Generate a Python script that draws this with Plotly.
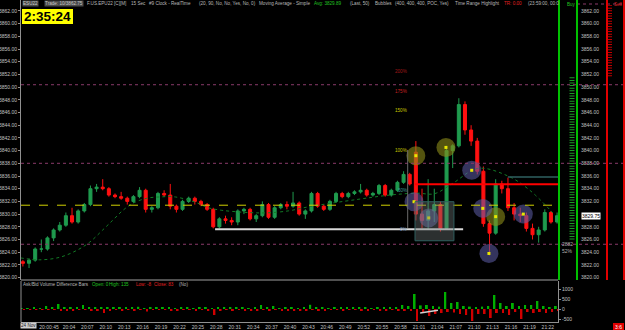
import plotly.graph_objects as go

# ---------------- data ----------------
# 1-minute bars, bar start in minutes after 20:00
bar_start = list(range(-4, 84))
opens = [3822.50, 3822.25, 3822.75, 3824.50, 3824.50, 3826.25, 3827.50, 3828.25, 3829.75, 3828.75,
         3830.50, 3831.50, 3834.00, 3834.25, 3834.00, 3833.00, 3832.75, 3832.50, 3832.00, 3832.75,
         3833.75, 3830.75, 3831.00, 3833.25, 3833.00, 3831.25, 3830.75, 3832.00, 3832.50, 3832.00,
         3831.50, 3830.75, 3828.00, 3829.25, 3829.00, 3828.75, 3830.50, 3830.75, 3829.25, 3829.75,
         3831.50, 3829.50, 3831.00, 3831.50, 3831.25, 3831.75, 3830.00, 3830.50, 3833.25, 3831.25,
         3830.75, 3832.00, 3833.25, 3832.75, 3833.25, 3833.50, 3833.75, 3833.00, 3833.25, 3834.50,
         3833.00, 3833.75, 3835.00, 3836.25, 3839.75, 3830.00, 3829.00, 3830.50, 3831.50, 3827.75,
         3840.00, 3840.75, 3847.25, 3843.25, 3841.50, 3836.75, 3828.50, 3827.00, 3834.75, 3834.00,
         3831.00, 3830.00, 3829.75, 3827.75, 3826.75, 3827.50, 3830.25, 3828.75]
highs = [3822.75, 3823.00, 3824.75, 3826.00, 3826.50, 3827.75, 3828.75, 3830.25, 3831.00, 3830.75,
         3831.75, 3834.50, 3834.75, 3835.50, 3834.25, 3833.25, 3833.50, 3832.75, 3833.00, 3834.25,
         3834.00, 3831.25, 3833.50, 3833.75, 3834.75, 3831.50, 3832.25, 3832.75, 3832.75, 3832.25,
         3831.75, 3831.00, 3829.50, 3829.75, 3829.50, 3830.75, 3831.00, 3831.00, 3830.00, 3832.00,
         3831.75, 3831.25, 3831.75, 3832.00, 3833.50, 3832.00, 3830.75, 3833.50, 3833.50, 3831.50,
         3832.25, 3833.50, 3833.50, 3833.50, 3833.75, 3834.75, 3834.00, 3833.50, 3834.75, 3834.75,
         3834.00, 3835.25, 3836.75, 3836.50, 3841.50, 3834.00, 3835.50, 3834.00, 3832.00, 3840.75,
         3841.00, 3848.25, 3847.75, 3844.00, 3842.00, 3837.50, 3829.00, 3835.50, 3835.25, 3835.75,
         3831.75, 3831.00, 3830.25, 3828.50, 3828.00, 3830.75, 3830.50, 3830.25]
lows = [3821.75, 3821.50, 3822.50, 3824.00, 3824.25, 3825.75, 3827.25, 3828.00, 3828.50, 3828.50,
        3830.25, 3831.25, 3833.50, 3833.75, 3832.75, 3832.50, 3832.25, 3831.50, 3831.75, 3832.50,
        3830.25, 3830.25, 3830.75, 3832.75, 3830.75, 3830.25, 3830.50, 3831.75, 3831.50, 3831.25,
        3830.50, 3827.75, 3827.75, 3828.50, 3828.25, 3828.25, 3830.00, 3829.00, 3828.75, 3829.50,
        3829.25, 3829.25, 3830.75, 3830.75, 3831.00, 3829.75, 3829.25, 3830.25, 3831.00, 3830.50,
        3830.50, 3831.75, 3832.50, 3832.50, 3833.00, 3833.25, 3832.75, 3832.75, 3833.00, 3832.75,
        3832.75, 3833.50, 3834.75, 3834.50, 3829.00, 3827.75, 3827.50, 3828.75, 3827.25, 3827.50,
        3837.25, 3840.50, 3842.50, 3840.75, 3836.25, 3828.00, 3823.50, 3826.75, 3833.25, 3830.50,
        3829.00, 3828.75, 3827.25, 3826.00, 3825.50, 3827.25, 3828.50, 3828.50]
closes = [3822.25, 3822.75, 3824.50, 3824.50, 3826.25, 3827.50, 3828.25, 3829.75, 3828.75, 3830.50,
          3831.50, 3834.00, 3834.25, 3834.00, 3833.00, 3832.75, 3832.50, 3832.00, 3832.75, 3833.75,
          3830.75, 3831.00, 3833.25, 3833.00, 3831.25, 3830.75, 3832.00, 3832.50, 3832.00, 3831.50,
          3830.75, 3828.00, 3829.25, 3829.00, 3828.75, 3830.50, 3830.75, 3829.25, 3829.75, 3831.50,
          3829.50, 3831.00, 3831.50, 3831.25, 3831.75, 3830.00, 3830.50, 3833.25, 3831.25, 3830.75,
          3832.00, 3833.25, 3832.75, 3833.25, 3833.50, 3833.75, 3833.00, 3833.25, 3834.50, 3833.00,
          3833.75, 3835.00, 3836.25, 3834.75, 3830.00, 3829.00, 3830.50, 3831.50, 3827.75, 3840.00,
          3840.75, 3847.25, 3843.25, 3841.50, 3836.75, 3828.50, 3827.00, 3834.75, 3834.00, 3831.00,
          3830.00, 3829.75, 3827.75, 3826.75, 3827.50, 3830.25, 3828.75, 3829.75]

# Ask/Bid volume difference (positive and negative part per minute)
vol_pos = [40, 50, 60, 50, 150, 60, 250, 80, 60, 80, 200, 90, 60, 80, 70, 60, 90, 70, 60, 110,
           50, 70, 90, 60, 80, 40, 70, 60, 50, 90, 60, 40, 80, 100, 60, 80, 60, 50, 70, 200,
           60, 150, 50, 70, 60, 40, 90, 210, 60, 80, 50, 70, 90, 60, 80, 70, 60, 50, 80, 60,
           90, 100, 200, 150, 750, 180, 200, 150, 120, 850, 300, 350, 150, 120, 100, 120, 150, 700,
           300, 150, 300, 150, 200, 200, 400, 150, 100, 150]
vol_neg = [-20, -40, -30, -50, -40, -30, -60, -60, -70, -40, -50, -60, -80, -200, -60, -50, -60, -40, -80, -40,
           -120, -50, -40, -50, -90, -60, -40, -50, -60, -50, -70, -300, -60, -50, -90, -40, -70, -80, -60, -50,
           -90, -40, -100, -70, -60, -90, -60, -50, -80, -60, -50, -40, -60, -50, -40, -60, -70, -50, -60, -80,
           -40, -60, -80, -100, -600, -200, -350, -250, -200, -150, -180, -250, -300, -600, -250, -250, -450, -200,
           -200, -300, -150, -500, -150, -200, -150, -200, -150, -100]

# simple moving average (50) sampled points
ma_t = [-3.9, -0.7, 2.5, 5.3, 7.4, 9.5, 11.2, 12.8, 14.4, 16.7, 18.8, 21.3, 24.5, 26.7, 28.9,
        32.2, 34.3, 36.4, 39.7, 43.3, 50.9, 56.3, 60.7, 63.5, 66.6, 70.6, 75.5, 79.0, 82.8]
ma_v = [3823.1, 3822.8, 3823.2, 3824.3, 3825.6, 3827.5, 3829.1, 3830.6, 3831.7, 3832.5, 3832.7,
        3832.7, 3831.9, 3831.0, 3830.6, 3830.3, 3830.2, 3830.2, 3830.5, 3831.2, 3832.3, 3833.0,
        3833.3, 3833.2, 3834.9, 3837.2, 3836.0, 3833.8, 3830.2]

# bubbles (time in minutes after 20:00, price)
olive_t = [60.5, 65.4, 73.5]
olive_p = [3839.2, 3840.5, 3829.6]
blue_t = [60.2, 62.6, 69.6, 71.4, 72.4, 78.0]
blue_p = [3831.95, 3829.4, 3836.9, 3830.9, 3823.8, 3830.0]

tick_minutes = [0.75, 4, 7, 10, 13, 16, 19, 22, 25, 28, 31, 34, 37, 40, 43, 46, 49, 52, 55, 58,
                61, 64, 67, 70, 73, 76, 79, 82]
tick_labels = ["20:00:45", "20:04", "20:07", "20:10", "20:13", "20:16", "20:19", "20:22", "20:25",
               "20:28", "20:31", "20:34", "20:37", "20:40", "20:43", "20:46", "20:49", "20:52",
               "20:55", "20:58", "21:01", "21:04", "21:07", "21:10", "21:13", "21:16", "21:19", "21:22"]

price_ticks = [3820 + 2 * i for i in range(22)]
fib_levels = [3827.5, 3833.75, 3840.0, 3846.25, 3849.375, 3852.5]
fib_labels = ["0%", "50%", "100%", "150%", "175%", "200%"]
fib_colors = ["#6a8ab0", "#3f9a9a", "#c8c800", "#c8c800", "#c82020", "#a01818"]
dotted_levels = [3825.25, 3838.0, 3850.375]
yellow_level = 3831.4
red_level = 3834.7
teal_level = 3835.85
white_level = 3827.6
last_price = 3829.75

# ---------------- layout constants ----------------
W, H = 625, 330
PLOT_H = 322
X_MIN, X_MAX = -3.81, 83.65
Y_MIN, Y_MAX = 3819.62, 3863.72
FONT = "Liberation Sans, Arial"


def px(x):
    return x / W


def py(y):
    return (PLOT_H - y) / PLOT_H


fig = go.Figure()
xc = [k + 0.5 for k in bar_start]

fig.add_trace(go.Scatter(x=ma_t, y=ma_v, mode="lines", line=dict(color="#127a25", width=1, dash="dot", shape="spline"),
                         hoverinfo="skip"))
fig.add_trace(go.Candlestick(x=xc, open=opens, high=highs, low=lows, close=closes,
                             increasing=dict(line=dict(color="#1f9a4e", width=1), fillcolor="#1f9a4e"),
                             decreasing=dict(line=dict(color="#ff1010", width=1), fillcolor="#ff1010"),
                             whiskerwidth=0, hoverinfo="skip"))
fig.add_trace(go.Scatter(x=olive_t, y=olive_p, mode="markers",
                         marker=dict(size=19, color="rgba(140,140,25,0.6)", line=dict(width=0)), hoverinfo="skip"))
fig.add_trace(go.Scatter(x=blue_t, y=blue_p, mode="markers",
                         marker=dict(size=19, color="rgba(95,95,170,0.55)", line=dict(width=0)), hoverinfo="skip"))
fig.add_trace(go.Scatter(x=olive_t + blue_t, y=olive_p + blue_p, mode="markers",
                         marker=dict(size=3, color="#e8e800", symbol="square"), hoverinfo="skip"))

fig.add_trace(go.Bar(x=[k + 0.3 for k in bar_start], y=vol_pos, width=0.3, marker=dict(color="#00b000", line=dict(width=0)),
                     yaxis="y2", hoverinfo="skip"))
fig.add_trace(go.Bar(x=[k + 0.7 for k in bar_start], y=vol_neg, width=0.3, marker=dict(color="#d00000", line=dict(width=0)),
                     yaxis="y2", hoverinfo="skip"))
fig.add_trace(go.Scatter(x=[xc[0]], y=[closes[0]], yaxis="y3", mode="markers", marker=dict(opacity=0),
                         hoverinfo="skip"))

shapes = []
for lv in dotted_levels:
    shapes.append(dict(type="line", xref="paper", yref="y", x0=px(21), x1=1.0, y0=lv, y1=lv,
                       line=dict(color="#8a3a6a", width=1, dash="dot")))
shapes.append(dict(type="line", xref="paper", yref="paper", x0=px(577), x1=1.0, y0=py(4), y1=py(4),
                   line=dict(color="#8a3a6a", width=1, dash="dot")))
shapes.append(dict(type="line", xref="x", yref="y", x0=X_MIN, x1=X_MAX, y0=yellow_level, y1=yellow_level,
                   line=dict(color="#d0d000", width=1, dash="dash")))
shapes.append(dict(type="line", xref="x", yref="y", x0=27.8, x1=68.2, y0=white_level, y1=white_level,
                   line=dict(color="#d8d8d8", width=2)))
shapes.append(dict(type="line", xref="x", yref="y", x0=59.17, x1=59.17, y0=3827.8, y1=3840.1,
                   line=dict(color="#6a6a6a", width=1)))
shapes.append(dict(type="rect", xref="x", yref="y", x0=60.36, x1=66.7, y0=3825.8, y1=3831.95,
                   fillcolor="rgba(110,120,120,0.40)", line=dict(color="#2f5f5f", width=1), layer="above"))
shapes.append(dict(type="line", xref="x", yref="y", x0=60.36, x1=X_MAX, y0=red_level, y1=red_level,
                   line=dict(color="#ff0000", width=2)))
shapes.append(dict(type="line", xref="x", yref="y", x0=75.5, x1=X_MAX, y0=teal_level, y1=teal_level,
                   line=dict(color="#2f6060", width=1.5)))
shapes.append(dict(type="line", xref="paper", yref="paper", x0=px(21), x1=px(558), y0=py(280), y1=py(280),
                   line=dict(color="#a0a0a0", width=1)))
shapes.append(dict(type="line", xref="paper", yref="paper", x0=px(21), x1=px(21), y0=py(281), y1=py(322),
                   line=dict(color="#909090", width=1)))
for xx, col in [(559, "#00c000"), (577, "#00c000"), (607, "#e00000"), (624, "#e00000")]:
    shapes.append(dict(type="line", xref="paper", yref="paper", x0=px(xx), x1=px(xx), y0=py(0), y1=py(280),
                       line=dict(color=col, width=2)))
shapes.append(dict(type="line", xref="paper", yref="y", x0=px(572), x1=px(572), y0=3826.0, y1=3851.7,
                   line=dict(color="#1e9a28", width=5, dash="1px,1.6px")))
shapes.append(dict(type="line", xref="paper", yref="y", x0=px(610), x1=px(610), y0=3851.7, y1=3862.9,
                   line=dict(color="#c00000", width=4, dash="1px,1.6px")))
shapes.append(dict(type="rect", xref="paper", yref="paper", x0=px(22), x1=px(73), y0=py(24), y1=py(9),
                   fillcolor="#ffff00", line=dict(width=0)))
shapes.append(dict(type="line", xref="x", yref="y2", x0=61.2, x1=64.1, y0=-200, y1=-60,
                   line=dict(color="#d0d0d0", width=1.5)))
shapes.append(dict(type="rect", xref="paper", yref="paper", x0=px(613), x1=px(624), y0=py(330), y1=py(323),
                   fillcolor="#e00000", line=dict(width=0)))

annotations = []


def ann(text, x, y, color="#b8b8b8", size=4.6, xanchor="left", bg=None, xref="paper", yref="paper", bold=False,
        family=FONT):
    a = dict(text=("<b>%s</b>" % text) if bold else text, x=x, y=y, xref=xref, yref=yref, showarrow=False,
             xanchor=xanchor, yanchor="middle", font=dict(color=color, size=size, family=family),
             borderpad=0)
    if bg:
        a["bgcolor"] = bg
    annotations.append(a)


header = [("ESU22", 22, "#c8c8c8", "#4a4a4a"), ("Trade: 10/3862.75", 44, "#c8c8c8", "#4a4a4a"),
          ("F.US.EPU22 [C][M]", 86, "#b8b8b8", None), ("15 Sec", 130, "#b8b8b8", None),
          ("#9 Clock - RealTime", 148, "#b8b8b8", None), ("(20, 90, No, No, Yes, No, 0)", 198, "#b8b8b8", None),
          ("Moving Average - Simple", 258, "#b8b8b8", None), ("Avg: 3829.89", 313, "#20c020", None),
          ("(Last, 50)", 349, "#b8b8b8", None), ("Bubbles", 374, "#b8b8b8", None),
          ("(400, 400, 400, POC, Yes)", 394, "#b8b8b8", None), ("Time Range Highlight", 454, "#b8b8b8", None),
          ("TR: 0.00", 503, "#e02020", None), ("(23:59:00, 00:0", 527, "#b8b8b8", None)]
for t, x, c, bg in header:
    ann(t, px(x), py(3.5), color=c, bg=bg)

ann("Buy", px(566), py(4.5), color="#20c020")
ann("Sell", px(613), py(4.5), color="#e02020")

ann("2:35:24", px(47.5), py(16.5), color="#000000", size=13.5, xanchor="center", bold=True,
    family="Liberation Sans, Arial")

for lv, lb, c in zip(fib_levels, fib_labels, fib_colors):
    ann(lb, 59.3, lv, color=c, size=4.6, xanchor="right", xref="x", yref="y")

ann("2882", px(567), py(243.5), color="#b0b0b0", size=5, xanchor="center")
ann("52%", px(567), py(250.5), color="#b0b0b0", size=5, xanchor="center")

ann("%.2f" % last_price, px(591), last_price, color="#000000", size=5, xanchor="center",
    bg="#ffffff", yref="y")

legend = [("Ask/Bid Volume Difference Bars", 22, "#b8b8b8"), ("Open: 0", 91, "#20c020"),
          ("High: 135", 108, "#20c020"), ("Low: -8", 135, "#e02020"), ("Close: 83", 153, "#e02020"),
          ("(No)", 178, "#b8b8b8")]
for t, x, c in legend:
    ann(t, px(x), py(284.5), color=c)

ann("24 Nov", px(28.5), py(325.8), color="#202020", size=4.6, xanchor="center", bg="#d0d0d0")
ann("3:6", px(618.5), py(326.5), color="#ffffff", size=5, xanchor="center")

axis_font = dict(size=5, color="#c0c0c0", family=FONT)
right_labels = ["" if v == 3830 else "%.2f" % v for v in price_ticks]
fig.update_layout(
    width=W, height=H, margin=dict(l=0, r=0, t=0, b=8, autoexpand=False),
    paper_bgcolor="#000000", plot_bgcolor="#000000", showlegend=False, barmode="overlay",
    xaxis=dict(domain=[px(21), px(558)], range=[X_MIN, X_MAX], anchor="y2", rangeslider=dict(visible=False),
               tickmode="array", tickvals=tick_minutes, ticktext=tick_labels, tickfont=axis_font, tickangle=0,
               ticks="", ticklen=0, showgrid=False, zeroline=False,
               showline=True, linecolor="#909090", linewidth=1, automargin=False),
    yaxis=dict(domain=[py(280), 1.0], range=[Y_MIN, Y_MAX], side="left", anchor="x", tickmode="array",
               tickvals=price_ticks, ticktext=["%.2f" % v for v in price_ticks], tickfont=axis_font,
               ticks="outside", ticklen=2, tickcolor="#909090", showgrid=False, zeroline=False,
               showline=True, linecolor="#909090", linewidth=1, automargin=False),
    yaxis2=dict(domain=[0, py(281)], range=[-650, 1400], side="right", anchor="x", tickmode="array",
                tickvals=[-500, 0, 500, 1000], ticktext=["-500", "0", "500", "1000"], tickfont=axis_font,
                ticks="outside", ticklen=2, tickcolor="#909090", showgrid=False, zeroline=False,
                showline=True, linecolor="#909090", linewidth=1, automargin=False),
    yaxis3=dict(overlaying="y", range=[Y_MIN, Y_MAX], side="right", anchor="free", position=px(580),
                tickmode="array", tickvals=price_ticks, ticktext=right_labels,
                tickfont=axis_font, ticks="", showgrid=False, zeroline=False, showline=False, automargin=False),
    shapes=shapes, annotations=annotations,
)

fig.write_html("out.html")
